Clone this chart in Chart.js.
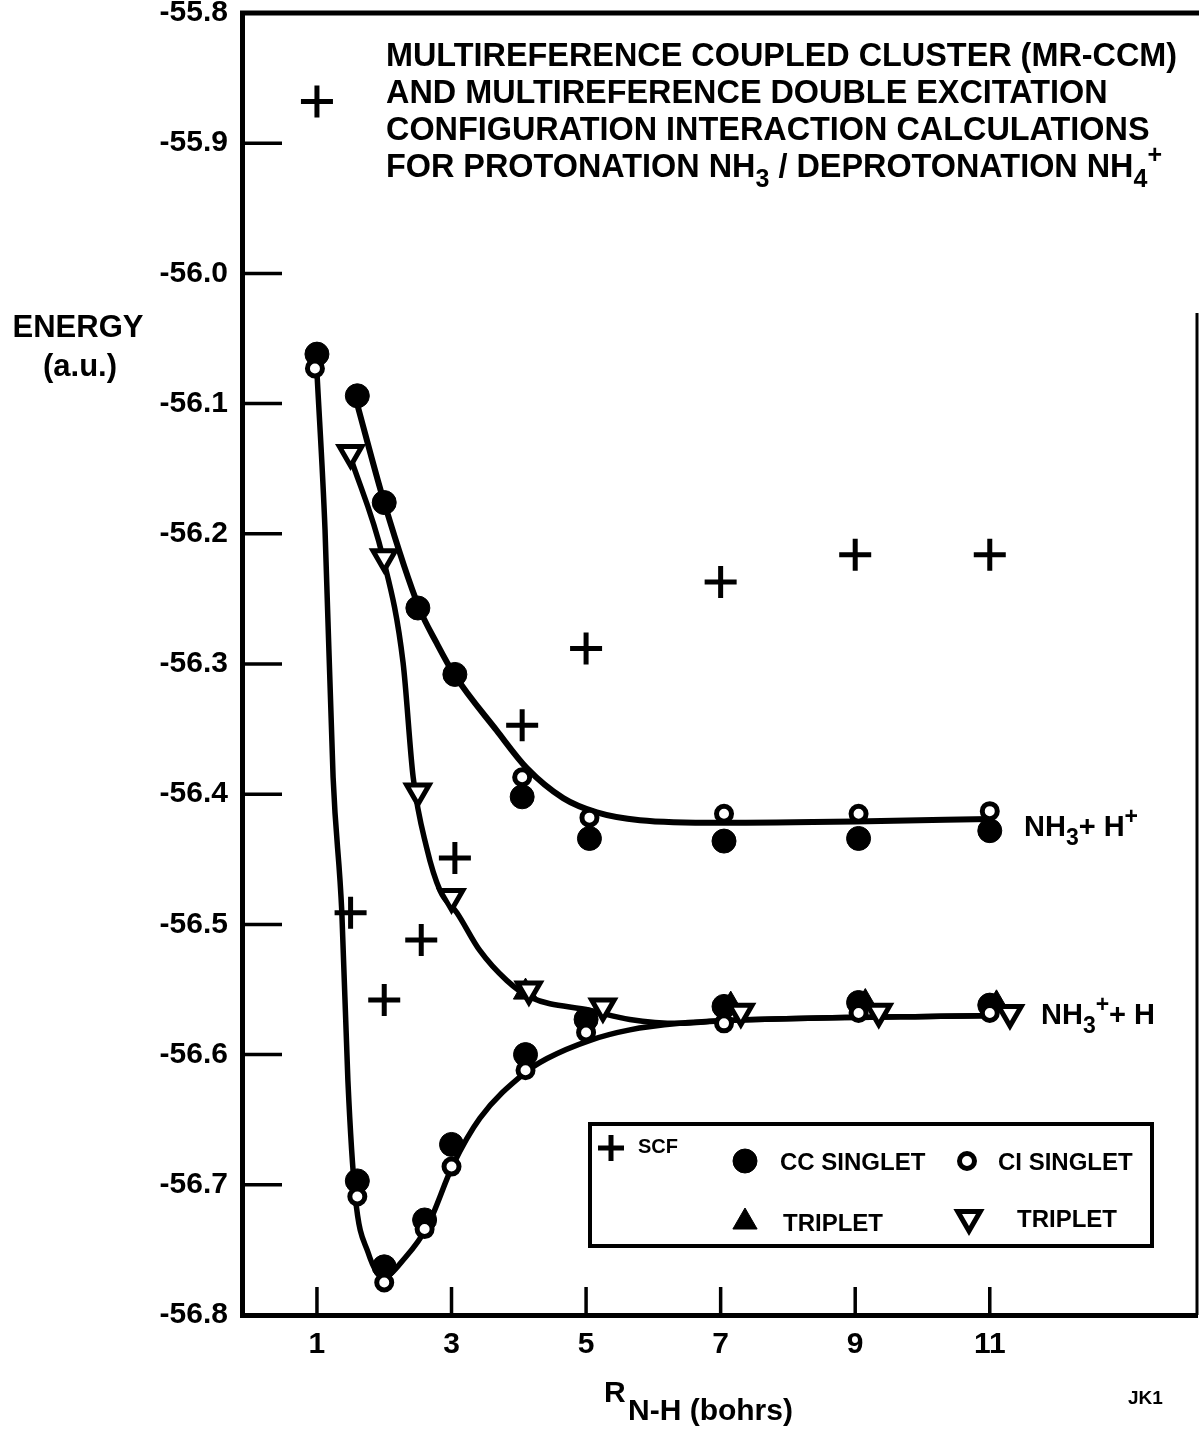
<!DOCTYPE html>
<html>
<head>
<meta charset="utf-8">
<title>MR-CCM / MR-CI energies for NH3 protonation</title>
<script src="https://cdn.jsdelivr.net/npm/chart.js@4.4.1/dist/chart.umd.min.js"></script>
<style>
  html, body { margin: 0; padding: 0; background: #fff; }
  #wrap { width: 1199px; height: 1431px; }
</style>
</head>
<body>
<div id="wrap"><canvas id="energyChart" width="1199" height="1431"></canvas></div>
<script>
const FONT = "'Liberation Sans', Arial, Helvetica, sans-serif";

// axis ticks: R(N-H) in bohrs, energy in a.u.
const xTicks = [1, 3, 5, 7, 9, 11];
const yTicks = [-55.8, -55.9, -56.0, -56.1, -56.2, -56.3, -56.4, -56.5, -56.6, -56.7, -56.8];

// SCF
const scfR = [1.0, 1.5, 2.0, 2.55, 3.05, 4.05, 5.0, 7.0, 9.0, 11.0];
const scfE = [-55.868, -56.491, -56.558, -56.512, -56.449, -56.347, -56.288, -56.237, -56.216, -56.216];

// CC singlet, NH3 + H+ branch
const ccUpperR = [1.6, 2.0, 2.5, 3.05, 4.05, 5.05, 7.05, 9.05, 11.0];
const ccUpperE = [-56.094, -56.176, -56.257, -56.308, -56.402, -56.434, -56.436, -56.434, -56.428];
// CC singlet, NH4+ well / NH3+ + H branch
const ccLowerR = [1.0, 1.6, 2.0, 2.6, 3.0, 4.1, 5.0, 7.05, 9.05, 11.0];
const ccLowerE = [-56.062, -56.697, -56.763, -56.727, -56.669, -56.600, -56.573, -56.563, -56.560, -56.562];

// CI singlet
const ciUpperR = [4.05, 5.05, 7.05, 9.05, 11.0];
const ciUpperE = [-56.387, -56.418, -56.415, -56.415, -56.413];
const ciLowerR = [0.97, 1.6, 2.0, 2.6, 3.0, 4.1, 5.0, 7.05, 9.05, 11.0];
const ciLowerE = [-56.073, -56.709, -56.775, -56.734, -56.686, -56.612, -56.583, -56.576, -56.568, -56.568];

// triplets
const ccTripR = [4.1, 7.15, 9.15, 11.1];
const ccTripE = [-56.552, -56.562, -56.560, -56.561];
const ciTripR = [1.5, 2.0, 2.5, 3.0, 4.15, 5.25, 7.3, 9.35, 11.3];
const ciTripE = [-56.138, -56.218, -56.398, -56.479, -56.550, -56.563, -56.567, -56.567, -56.568];

// hand-fitted curves
const fitUpperR = [1.58, 2.0, 2.52, 2.78, 3.04, 3.67, 4.12, 4.66, 5.16, 5.8, 7.0, 9.0, 11.0];
const fitUpperE = [-56.097, -56.176, -56.257, -56.284, -56.308, -56.351, -56.380, -56.403, -56.414, -56.420, -56.422, -56.421, -56.419];
const fitTripR = [1.49, 1.98, 2.28, 2.43, 2.63, 2.83, 3.08, 3.42, 3.82, 4.17, 5.06, 5.65, 6.39, 7.02, 11.0];
const fitTripE = [-56.140, -56.218, -56.299, -56.387, -56.441, -56.474, -56.491, -56.520, -56.543, -56.556, -56.566, -56.573, -56.576, -56.574, -56.570];
const fitLowerR = [1.0, 1.12, 1.24, 1.37, 1.46, 1.57, 1.76, 1.98, 2.31, 2.64, 3.02, 3.42, 4.09, 4.42, 5.06, 5.65, 6.39, 7.02, 11.0];
const fitLowerE = [-56.076, -56.197, -56.387, -56.491, -56.620, -56.709, -56.752, -56.771, -56.756, -56.732, -56.685, -56.649, -56.614, -56.603, -56.589, -56.581, -56.576, -56.574, -56.570];

const pts = (xs, ys) => xs.map((x, i) => ({ x: x, y: ys[i] }));

const markScf = { pointStyle: "cross", pointRadius: 16, pointBorderWidth: 5, pointBorderColor: "#000" };
const markCc = { pointStyle: "circle", pointRadius: 12, pointBorderWidth: 1, pointBorderColor: "#000", pointBackgroundColor: "#000" };
const markCi = { pointStyle: "circle", pointRadius: 7.5, pointBorderWidth: 5, pointBorderColor: "#000", pointBackgroundColor: "#fff" };
const markCcTrip = { pointStyle: "triangle", pointRadius: 14, pointBorderWidth: 1, pointBorderColor: "#000", pointBackgroundColor: "#000" };
const markCiTrip = { pointStyle: "triangle", pointRotation: 180, pointRadius: 13, pointBorderWidth: 5, pointBorderColor: "#000", pointBackgroundColor: "#fff" };

function curve(xs, ys, w) {
  return {
    type: "line",
    data: pts(xs, ys),
    borderColor: "#000",
    borderWidth: w,
    pointRadius: 0,
    fill: false,
    cubicInterpolationMode: "monotone",
    borderCapStyle: "round",
    borderJoinStyle: "round",
  };
}

// text with sub/superscripts: parts are [text, "sub" | "sup" | ""]
function rich(ctx, x, y, parts, size) {
  let cx = x;
  for (const [t, kind] of parts) {
    const s = kind ? Math.round(size * 0.78) : size;
    ctx.font = "bold " + s + "px " + FONT;
    let dy = 0;
    if (kind === "sub") dy = size * 0.32;
    if (kind === "sup") dy = -size * 0.42;
    ctx.fillText(t, cx, y + dy);
    cx += ctx.measureText(t).width;
  }
}

// keep the plot frame where the layout padding puts it
function noScalePadding(s) {
  s.paddingTop = 0;
  s.paddingBottom = 0;
  s.paddingLeft = 0;
  s.paddingRight = 0;
}

const decor = {
  id: "decor",
  beforeDraw(chart) {
    const ctx = chart.ctx;
    ctx.save();
    ctx.fillStyle = "#fff";
    ctx.fillRect(0, 0, chart.width, chart.height);
    ctx.restore();
  },
  afterDraw(chart) {
    const ctx = chart.ctx;
    const a = chart.chartArea;
    const xs = chart.scales.x, ys = chart.scales.y;
    ctx.save();
    ctx.strokeStyle = "#000";
    ctx.fillStyle = "#000";

    // frame: top rule and right rule
    ctx.lineWidth = 5;
    ctx.beginPath();
    ctx.moveTo(a.left - 2, a.top);
    ctx.lineTo(chart.width, a.top);
    ctx.stroke();
    ctx.lineWidth = 3;
    ctx.beginPath();
    ctx.moveTo(a.right, a.top + 300);
    ctx.lineTo(a.right, a.bottom);
    ctx.stroke();

    // inward tick marks
    ctx.lineWidth = 3.5;
    yTicks.forEach(v => {
      if (v === -55.8 || v === -56.8) return;
      const py = ys.getPixelForValue(v);
      ctx.beginPath();
      ctx.moveTo(a.left, py);
      ctx.lineTo(a.left + 40, py);
      ctx.stroke();
    });
    xTicks.forEach(v => {
      const px = xs.getPixelForValue(v);
      ctx.beginPath();
      ctx.moveTo(px, a.bottom);
      ctx.lineTo(px, a.bottom - 28);
      ctx.stroke();
    });

    // title block
    ctx.textAlign = "left";
    ctx.textBaseline = "alphabetic";
    rich(ctx, 386, 66, [["MULTIREFERENCE COUPLED CLUSTER (MR-CCM)", ""]], 32.4);
    rich(ctx, 386, 103, [["AND MULTIREFERENCE DOUBLE EXCITATION", ""]], 32.4);
    rich(ctx, 386, 140, [["CONFIGURATION INTERACTION CALCULATIONS", ""]], 32.4);
    rich(ctx, 386, 177, [["FOR PROTONATION NH", ""], ["3", "sub"], [" / DEPROTONATION NH", ""], ["4", "sub"], ["+", "sup"]], 32.4);

    // y axis title
    ctx.textAlign = "center";
    ctx.font = "bold 31px " + FONT;
    ctx.fillText("ENERGY", 78, 337);
    ctx.fillText("(a.u.)", 80, 376);

    // asymptote labels
    ctx.textAlign = "left";
    rich(ctx, 1024, 836, [["NH", ""], ["3", "sub"], ["+ H", ""], ["+", "sup"]], 29);
    rich(ctx, 1041, 1024, [["NH", ""], ["3", "sub"], ["+", "sup"], ["+ H", ""]], 29);

    // x axis title
    rich(ctx, 604, 1402, [["R", ""]], 30);
    rich(ctx, 628, 1420, [["N-H (bohrs)", ""]], 30);
    ctx.font = "bold 19px " + FONT;
    ctx.fillText("JK1", 1128, 1404);

    // legend box
    ctx.lineWidth = 4;
    ctx.strokeRect(590, 1124, 562, 122);
    const glyph = (m, x, y) => {
      ctx.save();
      ctx.fillStyle = m.pointBackgroundColor || "#000";
      ctx.strokeStyle = "#000";
      ctx.lineWidth = m.pointBorderWidth;
      Chart.helpers.drawPoint(ctx, {
        pointStyle: m.pointStyle,
        rotation: m.pointRotation || 0,
        radius: m.pointRadius,
        borderWidth: m.pointBorderWidth,
      }, x, y);
      ctx.restore();
    };
    glyph(Object.assign({}, markScf, { pointRadius: 13 }), 611, 1148);
    glyph(markCc, 745, 1161);
    glyph(markCi, 967, 1161);
    glyph(markCcTrip, 745, 1222);
    glyph(markCiTrip, 969, 1218);
    ctx.fillStyle = "#000";
    ctx.font = "bold 20px " + FONT;
    ctx.fillText("SCF", 638, 1153);
    ctx.font = "bold 24px " + FONT;
    ctx.fillText("CC SINGLET", 780, 1170);
    ctx.fillText("CI SINGLET", 998, 1170);
    ctx.fillText("TRIPLET", 783, 1231);
    ctx.fillText("TRIPLET", 1017, 1227);

    ctx.restore();
  },
};

const tickFont = { family: FONT, size: 30, weight: "bold", lineHeight: 0.9 };

new Chart(document.getElementById("energyChart"), {
  type: "scatter",
  data: {
    datasets: [
      Object.assign({ label: "SCF", data: pts(scfR, scfE) }, markScf),
      Object.assign({ label: "CI singlet", data: pts(ciUpperR, ciUpperE).concat(pts(ciLowerR, ciLowerE)) }, markCi),
      Object.assign({ label: "CI triplet", data: pts(ciTripR, ciTripE) }, markCiTrip),
      Object.assign({ label: "CC triplet", data: pts(ccTripR, ccTripE) }, markCcTrip),
      Object.assign({ label: "CC singlet", data: pts(ccUpperR, ccUpperE).concat(pts(ccLowerR, ccLowerE)) }, markCc),
      curve(fitUpperR, fitUpperE, 6),
      curve(fitTripR, fitTripE, 5.5),
      curve(fitLowerR, fitLowerE, 5.5),
    ],
  },
  options: {
    responsive: false,
    animation: false,
    devicePixelRatio: 1,
    layout: { autoPadding: false, padding: { top: 13, right: 2, left: 0, bottom: 0 } },
    plugins: { legend: { display: false }, tooltip: { enabled: false } },
    scales: {
      x: {
        type: "linear",
        min: -0.114,
        max: 14.08,
        afterBuildTicks: s => { s.ticks = xTicks.map(v => ({ value: v })); },
        afterFit: s => { s.height = 116; noScalePadding(s); },
        grid: { display: false, drawTicks: false },
        border: { display: true, color: "#000", width: 5 },
        ticks: { color: "#000", font: tickFont, padding: 16, callback: v => String(v) },
      },
      y: {
        type: "linear",
        min: -56.8,
        max: -55.8,
        afterBuildTicks: s => { s.ticks = yTicks.map(v => ({ value: v })); },
        afterFit: s => { s.width = 242; noScalePadding(s); },
        grid: { display: false, drawTicks: false },
        border: { display: true, color: "#000", width: 5 },
        ticks: { color: "#000", font: tickFont, padding: 14, callback: v => v.toFixed(1) },
      },
    },
  },
  plugins: [decor],
});
</script>
</body>
</html>
